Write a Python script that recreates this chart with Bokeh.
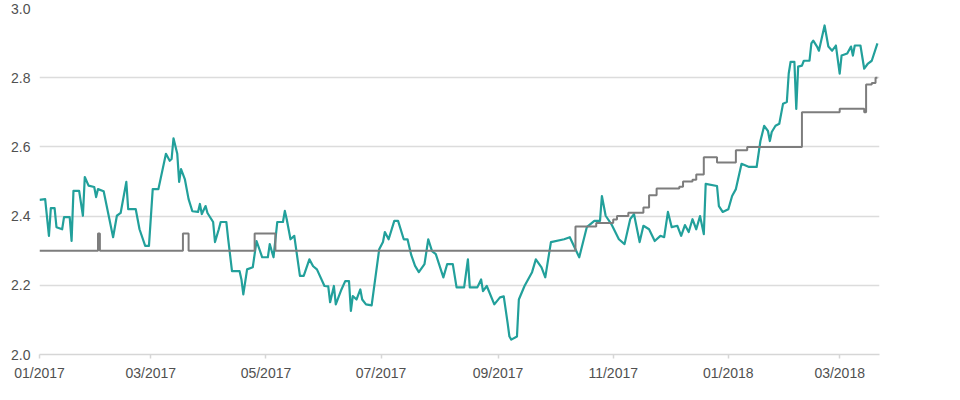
import pandas as pd
from bokeh.plotting import figure
from bokeh.models import Range1d, FixedTicker, DatetimeTickFormatter, PrintfTickFormatter
from bokeh.embed import file_html
from bokeh.resources import INLINE

START = "2017-01-01"

# Market series (teal): day offset from 2017-01-01, value
yield_days = [0, 3, 5, 6, 8, 9, 12, 13, 16, 17, 18, 21, 23, 24, 26, 29, 30, 31, 34, 39,
              41, 43, 46, 47, 51, 53, 56, 58, 60, 63, 67, 69, 70, 71, 73, 74, 75, 77, 79, 81,
              84, 85, 86, 88, 89, 92, 93, 95, 96, 99, 100, 102, 106, 107, 108, 110, 113, 115, 118, 121,
              122, 124, 126, 129, 130, 131, 133, 135, 138, 140, 143, 145, 147, 151, 153, 154, 156, 157, 160, 162,
              164, 165, 166, 168, 170, 171, 173, 176, 180, 182, 183, 185, 188, 190, 193, 195, 197, 199, 201, 204,
              206, 208, 210, 214, 216, 219, 221, 225, 227, 228, 232, 234, 235, 237, 241, 244, 246, 248, 249, 250,
              253, 254, 257, 261, 263, 266, 268, 271, 278, 281, 284, 286, 290, 294, 297, 298, 300, 303, 307, 310,
              313, 315, 318, 320, 323, 326, 329, 331, 333, 335, 338, 340, 342, 344, 346, 348, 350, 352, 353, 359,
              360, 362, 365, 367, 369, 372, 376, 380, 382, 384, 386, 387, 388, 390, 392, 394, 396, 397, 398, 400,
              401, 402, 404, 405, 408, 409, 410, 412, 413, 416, 418, 420, 422, 424, 425, 428, 430, 431, 432, 435,
              437, 439, 441, 444]
yield_vals = [2.447, 2.449, 2.343, 2.423, 2.423, 2.368, 2.362, 2.397, 2.397, 2.328, 2.473, 2.473, 2.401, 2.513, 2.488, 2.484, 2.455, 2.478, 2.472, 2.339,
              2.401, 2.409, 2.499, 2.420, 2.420, 2.362, 2.314, 2.314, 2.478, 2.478, 2.580, 2.560, 2.565, 2.625, 2.580, 2.499, 2.536, 2.507, 2.449, 2.414,
              2.412, 2.435, 2.406, 2.429, 2.409, 2.383, 2.325, 2.362, 2.383, 2.383, 2.333, 2.241, 2.241, 2.217, 2.174, 2.246, 2.252, 2.328, 2.281, 2.281,
              2.319, 2.281, 2.383, 2.383, 2.415, 2.391, 2.333, 2.343, 2.227, 2.227, 2.275, 2.255, 2.246, 2.198, 2.197, 2.151, 2.198, 2.145, 2.188, 2.212,
              2.212, 2.126, 2.169, 2.159, 2.188, 2.159, 2.145, 2.142, 2.304, 2.325, 2.354, 2.333, 2.386, 2.386, 2.333, 2.333, 2.287, 2.256, 2.238, 2.261,
              2.333, 2.299, 2.290, 2.223, 2.261, 2.261, 2.194, 2.194, 2.275, 2.194, 2.194, 2.217, 2.183, 2.198, 2.145, 2.165, 2.168, 2.093, 2.052, 2.043,
              2.052, 2.159, 2.198, 2.238, 2.275, 2.252, 2.223, 2.325, 2.333, 2.339, 2.304, 2.281, 2.368, 2.386, 2.386, 2.458, 2.401, 2.377, 2.333, 2.319,
              2.391, 2.406, 2.325, 2.372, 2.362, 2.328, 2.343, 2.339, 2.412, 2.368, 2.372, 2.343, 2.374, 2.354, 2.391, 2.362, 2.400, 2.348, 2.493, 2.487,
              2.429, 2.412, 2.420, 2.458, 2.478, 2.551, 2.542, 2.542, 2.617, 2.661, 2.646, 2.617, 2.643, 2.661, 2.667, 2.725, 2.730, 2.812, 2.846, 2.846,
              2.710, 2.832, 2.835, 2.849, 2.849, 2.899, 2.907, 2.890, 2.878, 2.951, 2.890, 2.878, 2.893, 2.812, 2.864, 2.870, 2.890, 2.864, 2.893, 2.893,
              2.826, 2.841, 2.849, 2.899]

# Policy-like series (grey step line): change day offset, value
rate_days = [0, 31, 32, 76, 79, 114, 125, 284, 295, 304, 306, 312, 320, 323, 327, 339, 341, 346, 348, 352,
             359, 369, 375, 404, 424, 437, 438, 441, 443, 444]
rate_vals = [2.30, 2.35, 2.30, 2.35, 2.30, 2.35, 2.30, 2.37, 2.38, 2.39, 2.40, 2.41, 2.425, 2.46, 2.48, 2.485, 2.50, 2.505, 2.52, 2.57,
             2.555, 2.59, 2.60, 2.70, 2.71, 2.70, 2.78, 2.785, 2.80, 2.80]

x_tick_dates = ["2017-01-01", "2017-03-01", "2017-05-01", "2017-07-01", "2017-09-01",
                "2017-11-01", "2018-01-01", "2018-03-01"]
y_ticks = [2.0, 2.2, 2.4, 2.6, 2.8, 3.0]

t0 = pd.Timestamp(START)
yield_x = t0 + pd.to_timedelta(yield_days, unit="D")
rate_x = t0 + pd.to_timedelta(rate_days, unit="D")
x_end = t0 + pd.to_timedelta(445.1, unit="D")

p = figure(x_axis_type="datetime", output_backend="svg", toolbar_location=None,
           frame_width=840, frame_height=346,
           min_border_left=39, min_border_right=20, min_border_top=8, min_border_bottom=34,
           x_range=Range1d(t0, x_end), y_range=Range1d(2.0, 3.0))

p.outline_line_color = None
p.background_fill_color = "white"
p.border_fill_color = "white"

p.line(yield_x, yield_vals, line_color="#22a09b", line_width=2.2, line_join="round")
p.step(rate_x, rate_vals, mode="after", line_color="#7d7d7d", line_width=2)

# x axis
xa = p.xaxis[0]
xa.ticker = FixedTicker(ticks=[pd.Timestamp(d).value / 1e6 for d in x_tick_dates])
fmt = "%m/%Y"
xa.formatter = DatetimeTickFormatter(milliseconds=fmt, seconds=fmt, minsec=fmt, minutes=fmt,
                                     hourmin=fmt, hours=fmt, days=fmt, months=fmt, years=fmt)
xa.axis_line_color = "#d6d6d6"
xa.axis_line_width = 1.5
xa.major_tick_line_color = "#d6d6d6"
xa.major_tick_line_width = 1.5
xa.major_tick_out = 4
xa.major_tick_in = 0
xa.minor_tick_line_color = None
xa.major_label_standoff = 6
xa.major_label_text_font = "Liberation Sans"
xa.major_label_text_font_size = "14px"
xa.major_label_text_color = "#505050"

# y axis
ya = p.yaxis[0]
ya.ticker = FixedTicker(ticks=y_ticks)
ya.formatter = PrintfTickFormatter(format="%.1f")
ya.axis_line_color = None
ya.major_tick_line_color = None
ya.minor_tick_line_color = None
ya.major_tick_out = 0
ya.major_tick_in = 0
ya.major_label_standoff = 9
ya.major_label_text_font = "Liberation Sans"
ya.major_label_text_font_size = "14px"
ya.major_label_text_color = "#505050"

p.xgrid.grid_line_color = None
p.ygrid.ticker = FixedTicker(ticks=y_ticks)
p.ygrid.grid_line_color = "#dcdcdc"
p.ygrid.grid_line_width = 1.5

open("out.html", "w").write(file_html(p, INLINE))
